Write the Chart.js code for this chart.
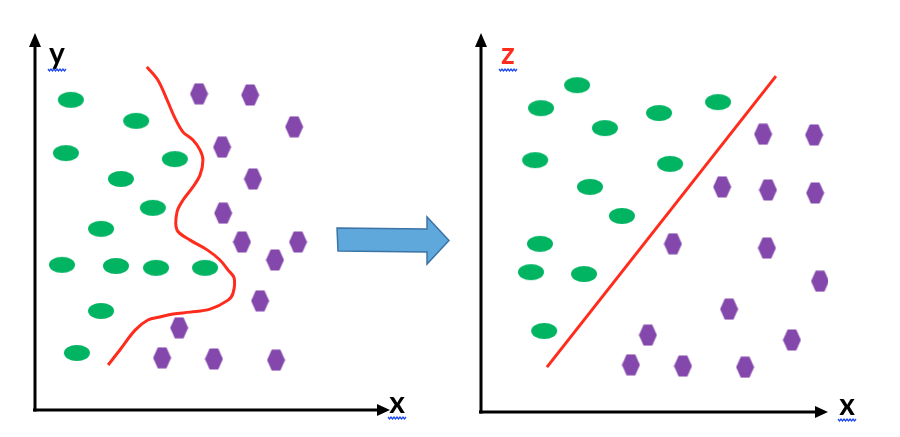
<!DOCTYPE html>
<html>
<head>
<meta charset="utf-8">
<script src="https://cdn.jsdelivr.net/npm/chart.js@4.4.1/dist/chart.umd.min.js"></script>
<style>
  html, body { margin: 0; padding: 0; background: #fff; }
  #wrap { position: relative; width: 900px; height: 437px; background: #fff; }
  canvas { position: absolute; top: 0; }
  #left { left: 0; }
  #right { left: 450px; }
</style>
</head>
<body>
<div id="wrap">
  <canvas id="left" width="450" height="437"></canvas>
  <canvas id="right" width="450" height="437"></canvas>
</div>
<script>
// values, both panels on a 0..10 scale
const leftGreenX  = [1.01, 2.85, 0.87, 3.94, 2.42, 3.32, 1.86, 0.76, 2.28, 3.41, 4.79, 1.86, 1.18];
const leftGreenY  = [8.27, 7.71, 6.85, 6.69, 6.16, 5.39, 4.83, 3.87, 3.84, 3.79, 3.79, 2.64, 1.52];
const leftPurpleX = [4.62, 6.06, 7.30, 5.27, 6.14, 5.30, 5.83, 7.41, 6.76, 6.34, 4.06, 3.58, 5.04, 6.79];
const leftPurpleY = [8.43, 8.40, 7.55, 7.01, 6.16, 5.25, 4.48, 4.48, 4.00, 2.91, 2.19, 1.39, 1.36, 1.33];
const leftCurveX  = [3.15, 3.46, 3.72, 3.94, 4.17, 4.45, 4.65, 4.73, 4.65, 4.45, 4.17, 4.00, 4.00, 4.37,
                     4.85, 5.21, 5.44, 5.61, 5.58, 5.44, 4.93, 4.37, 3.89, 3.52, 3.18, 2.82, 2.39, 2.06];
const leftCurveY  = [9.15, 8.80, 8.27, 7.79, 7.41, 7.20, 6.93, 6.67, 6.27, 5.95, 5.60, 5.28, 4.80, 4.53,
                     4.27, 4.00, 3.73, 3.52, 3.12, 2.93, 2.69, 2.61, 2.56, 2.48, 2.40, 2.13, 1.60, 1.20];

const rightGreenX  = [2.77, 1.73, 3.57, 5.13, 6.83, 1.56, 5.45, 3.14, 4.06, 1.70, 1.44, 2.97, 1.82];
const rightGreenY  = [8.67, 8.06, 7.53, 7.93, 8.22, 6.68, 6.58, 5.97, 5.20, 4.46, 3.71, 3.66, 2.15];
const rightPurpleX = [8.13, 9.60, 6.95, 8.27, 9.63, 5.53, 8.24, 9.77, 7.15, 4.81, 8.96, 4.32, 5.82, 7.61];
const rightPurpleY = [7.37, 7.35, 5.97, 5.89, 5.81, 4.46, 4.35, 3.47, 2.73, 2.04, 1.91, 1.25, 1.22, 1.19];
const rightLineX   = [1.90, 8.50];
const rightLineY   = [1.19, 8.91];

const GREEN = '#00B462';
const PURPLE = '#8447AC';
const RED = '#FF2B1C';

function pts(xs, ys) {
  return xs.map((x, i) => ({ x: x, y: ys[i] }));
}

// marker images
function ellipseMarker() {
  const c = document.createElement('canvas');
  c.width = 28; c.height = 18;
  const g = c.getContext('2d');
  g.fillStyle = GREEN;
  g.beginPath();
  g.ellipse(14, 9, 13, 8, 0, 0, Math.PI * 2);
  g.fill();
  return c;
}

function hexMarker() {
  const c = document.createElement('canvas');
  c.width = 19; c.height = 22;
  const g = c.getContext('2d');
  g.fillStyle = PURPLE;
  g.beginPath();
  g.moveTo(0.5, 11);
  g.lineTo(5.2, 0.5);
  g.lineTo(13.8, 0.5);
  g.lineTo(18.5, 11);
  g.lineTo(13.8, 21.5);
  g.lineTo(5.2, 21.5);
  g.closePath();
  g.fill();
  return c;
}

const ellipseImg = ellipseMarker();
const hexImg = hexMarker();

function squiggle(ctx, x, y, w) {
  ctx.save();
  ctx.strokeStyle = '#1E48F0';
  ctx.lineWidth = 1.3;
  ctx.beginPath();
  for (let i = 0; i <= w; i += 1.5) {
    const yy = y + ((Math.round(i / 1.5) % 2) ? 1 : -1);
    if (i === 0) ctx.moveTo(x + i, yy); else ctx.lineTo(x + i, yy);
  }
  ctx.stroke();
  ctx.restore();
}

// axes with arrow heads, axis letters, and the middle arrow
const axesPlugin = {
  id: 'axesArrows',
  afterDraw(chart, args, o) {
    const ctx = chart.ctx;
    const a = chart.chartArea;
    ctx.save();
    ctx.strokeStyle = '#000';
    ctx.fillStyle = '#000';
    ctx.lineWidth = 3;
    ctx.lineCap = 'butt';
    // y axis
    ctx.beginPath();
    ctx.moveTo(a.left, a.bottom + 1.5);
    ctx.lineTo(a.left, a.top + 10);
    ctx.stroke();
    ctx.beginPath();
    ctx.moveTo(a.left, a.top - 2);
    ctx.lineTo(a.left - 6, a.top + 12);
    ctx.lineTo(a.left + 6, a.top + 12);
    ctx.closePath();
    ctx.fill();
    // x axis
    ctx.beginPath();
    ctx.moveTo(a.left - 2, a.bottom);
    ctx.lineTo(o.xEnd - 10, a.bottom);
    ctx.stroke();
    ctx.beginPath();
    ctx.moveTo(o.xEnd, a.bottom);
    ctx.lineTo(o.xEnd - 13, a.bottom - 6);
    ctx.lineTo(o.xEnd - 13, a.bottom + 6);
    ctx.closePath();
    ctx.fill();

    ctx.font = 'bold 30px Lato, "Open Sans", sans-serif';
    ctx.textAlign = 'center';
    ctx.textBaseline = 'alphabetic';
    ctx.fillStyle = o.yColor;
    ctx.fillText(o.yLabel, a.left + o.yLabelDx, o.yLabelBase);
    squiggle(ctx, a.left + o.yLabelDx - 9, o.yLabelBase + 6, 18);
    ctx.fillStyle = '#000';
    ctx.fillText('x', o.xLabelX, a.bottom + 3);
    squiggle(ctx, o.xLabelX - 9, a.bottom + 8, 18);

    if (o.bigArrow) {
      ctx.fillStyle = '#5EA8DC';
      ctx.strokeStyle = '#3C74A6';
      ctx.lineWidth = 1.5;
      ctx.beginPath();
      ctx.moveTo(337, 228);
      ctx.lineTo(427, 229);
      ctx.lineTo(427, 217);
      ctx.lineTo(449, 240.5);
      ctx.lineTo(427, 264);
      ctx.lineTo(427, 252);
      ctx.lineTo(338, 251);
      ctx.closePath();
      ctx.fill();
      ctx.stroke();
    }
    ctx.restore();
  }
};

function makeChart(id, green, purple, line, pad, axisOpts, tension) {
  return new Chart(document.getElementById(id), {
    type: 'scatter',
    data: {
      datasets: [
        {
          data: line,
          showLine: true,
          borderColor: RED,
          borderWidth: 3,
          pointRadius: 0,
          tension: tension
        },
        { data: green, pointStyle: ellipseImg },
        { data: purple, pointStyle: hexImg }
      ]
    },
    options: {
      responsive: false,
      animation: false,
      events: [],
      layout: { padding: pad },
      plugins: {
        legend: { display: false },
        tooltip: { enabled: false },
        axesArrows: axisOpts
      },
      scales: {
        x: { type: 'linear', min: 0, max: 10, display: false },
        y: { type: 'linear', min: 0, max: 10, display: false }
      }
    },
    plugins: [axesPlugin]
  });
}

makeChart('left',
  pts(leftGreenX, leftGreenY),
  pts(leftPurpleX, leftPurpleY),
  pts(leftCurveX, leftCurveY),
  { left: 35, top: 35, right: 60, bottom: 27 },
  { yLabel: 'y', yColor: '#000', yLabelDx: 22, yLabelBase: 64, xEnd: 390, xLabelX: 397, bigArrow: true },
  0.35);

makeChart('right',
  pts(rightGreenX, rightGreenY),
  pts(rightPurpleX, rightPurpleY),
  pts(rightLineX, rightLineY),
  { left: 31, top: 35, right: 72, bottom: 25 },
  { yLabel: 'z', yColor: RED, yLabelDx: 27, yLabelBase: 64, xEnd: 378, xLabelX: 397, bigArrow: false },
  0);
</script>
</body>
</html>
